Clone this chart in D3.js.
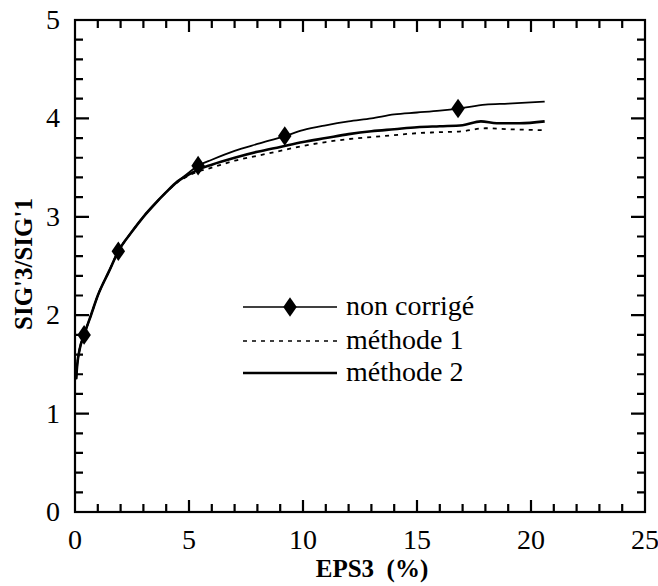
<!DOCTYPE html>
<html>
<head>
<meta charset="utf-8">
<script src="https://cdn.jsdelivr.net/npm/d3@7"></script>
<style>
  body { margin: 0; background: #fff; }
</style>
</head>
<body>
<svg id="chart"></svg>
<script>
// curve data (EPS3 in %, SIG'3/SIG'1)
var nonCorrige = [[0.05,1.35],[0.1,1.5],[0.2,1.65],[0.4,1.8],[0.7,2.0],[1.0,2.2],[1.5,2.45],[1.9,2.65],[2.5,2.85],[3,3.0],[3.5,3.13],[4,3.25],[4.5,3.36],[5,3.45],[5.4,3.52],[6,3.58],[7,3.67],[8,3.74],[9.2,3.82],[10,3.88],[11,3.93],[12,3.97],[13,4.0],[14,4.04],[15,4.06],[16,4.08],[16.8,4.1],[18,4.14],[19,4.15],[20.6,4.17]];
var methode1 = [[0.05,1.35],[0.1,1.5],[0.2,1.65],[0.4,1.8],[0.7,2.0],[1.0,2.2],[1.5,2.45],[1.9,2.65],[2.5,2.85],[3,3.0],[3.5,3.13],[4,3.25],[4.5,3.35],[5,3.42],[5.4,3.46],[6,3.5],[7,3.57],[8,3.62],[9,3.67],[10,3.72],[11,3.76],[12,3.79],[13,3.81],[14,3.83],[15,3.85],[16,3.86],[17,3.87],[18,3.9],[19,3.89],[20.6,3.88]];
var methode2 = [[0.05,1.35],[0.1,1.5],[0.2,1.65],[0.4,1.8],[0.7,2.0],[1.0,2.2],[1.5,2.45],[1.9,2.65],[2.5,2.85],[3,3.0],[3.5,3.13],[4,3.25],[4.5,3.36],[5,3.43],[5.4,3.48],[6,3.53],[7,3.6],[8,3.66],[9,3.71],[10,3.76],[11,3.8],[12,3.84],[13,3.87],[14,3.89],[15,3.91],[16,3.92],[17,3.93],[17.8,3.97],[18.5,3.95],[19.5,3.95],[20.6,3.97]];
var markers = [[0.4,1.8],[1.9,2.65],[5.4,3.52],[9.2,3.82],[16.8,4.1]];

var xTicks = [0, 5, 10, 15, 20, 25];
var yTicks = [0, 1, 2, 3, 4, 5];
var legendLabels = ["non corrigé", "méthode 1", "méthode 2"];

var FONT = "Liberation Serif";
var W = 658, H = 586;
var margin = { top: 20, right: 13, bottom: 74, left: 75 },
    width = W - margin.left - margin.right,
    height = H - margin.top - margin.bottom;

var root = d3.select("#chart").attr("width", W).attr("height", H);

// plain page coordinates: scales include the margins, nothing is nested in a transformed group
var x = d3.scaleLinear().domain([0, 25]).range([margin.left, margin.left + width]);
var y = d3.scaleLinear().domain([0, 5]).range([margin.top + height, margin.top]);
var x0 = x(0), x1 = x(25), y0 = y(0), y1 = y(5);

// minor + major ticks, drawn inward on all four sides
var xMinor = d3.range(1, 25, 1);
var yMinor = d3.range(1, 25, 1).map(v => v / 5);
function isMajor(v, step) { return Math.abs(v / step - Math.round(v / step)) < 1e-6; }

var tp = d3.path();
xMinor.forEach(function (d) {
    var len = isMajor(d, 5) ? 12 : 8;
    tp.moveTo(x(d), y0); tp.lineTo(x(d), y0 - len);
    tp.moveTo(x(d), y1); tp.lineTo(x(d), y1 + len);
});
yMinor.forEach(function (d) {
    var len = isMajor(d, 1) ? 14 : 8;
    tp.moveTo(x0, y(d)); tp.lineTo(x0 + len, y(d));
    tp.moveTo(x1, y(d)); tp.lineTo(x1 - len, y(d));
});
root.append("path")
    .attr("d", tp.toString())
    .attr("fill", "none")
    .attr("stroke", "black")
    .attr("stroke-width", 2.2);

// frame
root.append("rect")
    .attr("x", x0).attr("y", y1)
    .attr("width", x1 - x0).attr("height", y0 - y1)
    .attr("fill", "none").attr("stroke", "black").attr("stroke-width", 2.2);

// tick labels
root.selectAll(".xl").data(xTicks).enter().append("text")
    .attr("x", d => x(d)).attr("y", y0 + 37)
    .attr("text-anchor", "middle")
    .attr("font-family", FONT).attr("font-size", 28)
    .text(d => d);
root.selectAll(".yl").data(yTicks).enter().append("text")
    .attr("x", x0 - 15).attr("y", d => y(d) + 9)
    .attr("text-anchor", "end")
    .attr("font-family", FONT).attr("font-size", 28)
    .text(d => d);

// axis titles
root.append("text")
    .attr("x", x0 + width / 2 + 12).attr("y", y0 + 65)
    .attr("text-anchor", "middle")
    .attr("font-family", FONT).attr("font-size", 25).attr("font-weight", "bold")
    .attr("xml:space", "preserve")
    .text("EPS3  (%)");
root.append("text")
    .attr("transform", "rotate(-90)")
    .attr("x", -(y1 + height / 2) + 2).attr("y", x0 - 43)
    .attr("text-anchor", "middle")
    .attr("font-family", FONT).attr("font-size", 25).attr("font-weight", "bold")
    .text("SIG'3/SIG'1");

var line = d3.line().x(d => x(d[0])).y(d => y(d[1])).curve(d3.curveMonotoneX);

root.append("path").datum(methode1)
    .attr("fill", "none").attr("stroke", "black").attr("stroke-width", 1.8)
    .attr("stroke-dasharray", "4,5").attr("d", line);
root.append("path").datum(methode2)
    .attr("fill", "none").attr("stroke", "black").attr("stroke-width", 2.6).attr("d", line);
root.append("path").datum(nonCorrige)
    .attr("fill", "none").attr("stroke", "black").attr("stroke-width", 1.8).attr("d", line);

var diamond = d3.symbol().type(d3.symbolDiamond).size(110);
root.selectAll(".mk").data(markers).enter().append("path")
    .attr("class", "mk")
    .attr("transform", d => `translate(${x(d[0])},${y(d[1])}) scale(1.2,1)`)
    .attr("d", diamond).attr("fill", "black");

// legend
var legX0 = 243, legX1 = 337;
var legY = [307, 341, 373];
legendLabels.forEach(function (lab, i) {
    var l = root.append("line")
        .attr("x1", legX0).attr("x2", legX1)
        .attr("y1", legY[i]).attr("y2", legY[i])
        .attr("stroke", "black")
        .attr("stroke-width", i === 2 ? 2.4 : 1.6);
    if (i === 1) l.attr("stroke-dasharray", "4,5");
    if (i === 0) root.append("path")
        .attr("transform", `translate(${(legX0 + legX1) / 2},${legY[i]}) scale(1.2,1)`)
        .attr("d", diamond).attr("fill", "black");
    root.append("text")
        .attr("x", legX1 + 9).attr("y", legY[i] + 8)
        .attr("font-family", FONT).attr("font-size", 28)
        .text(lab);
});
</script>
</body>
</html>
